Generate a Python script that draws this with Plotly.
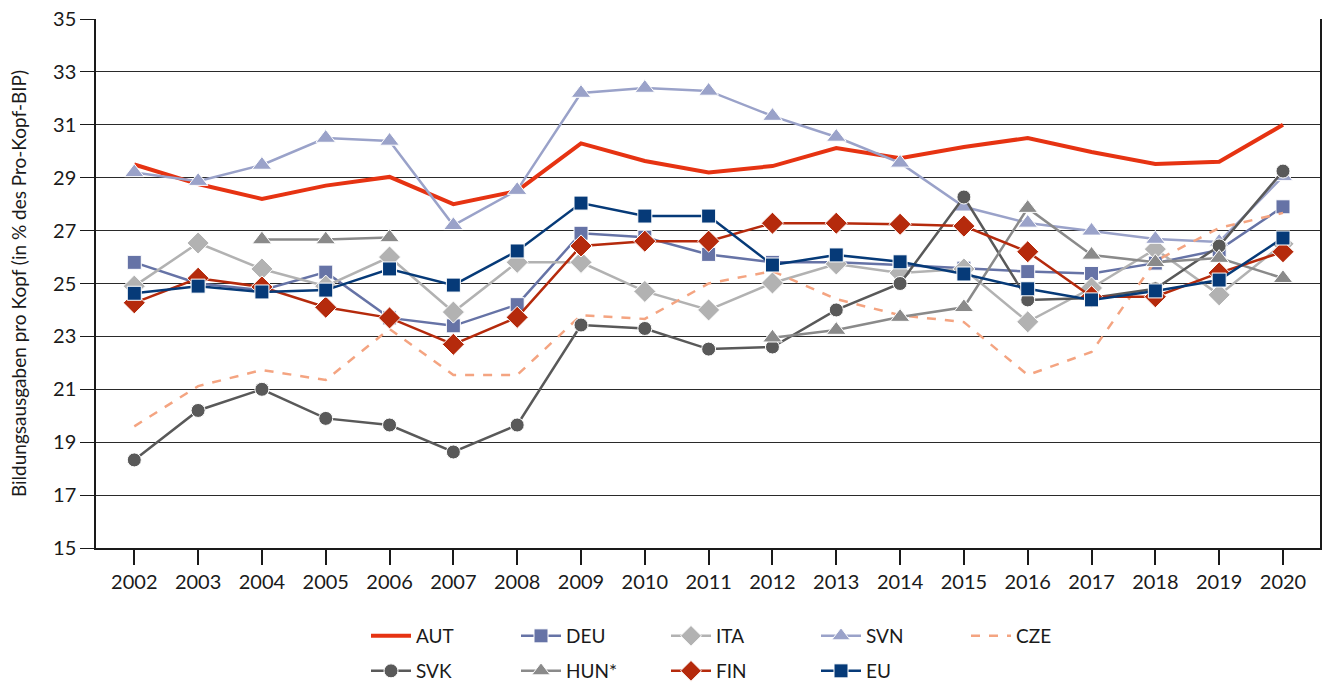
import plotly.graph_objects as go

years = list(range(2002, 2021))

aut = [29.5, 28.76, 28.2, 28.7, 29.03, 28.0, 28.5, 30.3, 29.63, 29.2, 29.44, 30.12, 29.74, 30.16, 30.5, 29.97, 29.52, 29.6, 31.0]
deu = [25.8, 25.0, 24.75, 25.43, 23.7, 23.4, 24.2, 26.9, 26.75, 26.1, 25.8, 25.8, 25.7, 25.58, 25.45, 25.38, 25.77, 26.27, 27.9]
ita = [24.9, 26.53, 25.55, 24.9, 26.0, 23.92, 25.8, 25.8, 24.7, 24.0, 25.02, 25.74, 25.4, 25.55, 23.55, 24.83, 26.3, 24.57, 26.5]
svn = [29.2, 28.87, 29.48, 30.5, 30.39, 27.2, 28.53, 32.2, 32.39, 32.28, 31.33, 30.54, 29.56, 27.9, 27.29, 26.99, 26.68, 26.57, 29.05]
cze = [19.6, 21.12, 21.73, 21.35, 23.28, 21.54, 21.54, 23.8, 23.66, 25.0, 25.47, 24.41, 23.8, 23.54, 21.54, 22.41, 25.85, 27.1, 27.67]
svk = [18.33, 20.2, 21.0, 19.9, 19.65, 18.63, 19.65, 23.43, 23.3, 22.52, 22.6, 24.0, 25.0, 28.27, 24.38, 24.45, 24.8, 26.42, 29.25]
hun = [None, None, 26.66, 26.66, 26.74, None, None, None, None, None, 22.95, 23.24, 23.73, 24.1, 27.85, 26.08, 25.8, 25.96, 25.2]
fin = [24.27, 25.2, 24.87, 24.1, 23.7, 22.7, 23.72, 26.42, 26.6, 26.6, 27.28, 27.28, 27.24, 27.17, 26.2, 24.5, 24.5, 25.4, 26.2]
eu = [24.63, 24.9, 24.68, 24.75, 25.55, 24.94, 26.23, 28.04, 27.55, 27.55, 25.7, 26.08, 25.82, 25.36, 24.8, 24.38, 24.72, 25.13, 26.72]

y_ticks = [15, 17, 19, 21, 23, 25, 27, 29, 31, 33, 35]
y_title = "Bildungsausgaben pro Kopf (in % des Pro-Kopf-BIP)"

FONT = "Lato, 'Open Sans', sans-serif"

series = [
    # name, values, color, width, dash, symbol, size, legend
    ("AUT", aut, "#E63312", 4, "solid", None, 0, "legend"),
    ("DEU", deu, "#6673A6", 2.5, "solid", "square", 14, "legend"),
    ("ITA", ita, "#B2B2B2", 2.5, "solid", "diamond", 17, "legend"),
    ("SVN", svn, "#9AA2C9", 2.5, "solid", "triangle-up", 17, "legend"),
    ("CZE", cze, "#F4A481", 2.5, "dash", None, 0, "legend"),
    ("SVK", svk, "#595959", 2.5, "solid", "circle", 14, "legend2"),
    ("HUN*", hun, "#8A8A8A", 2.5, "solid", "triangle-up", 17, "legend2"),
    ("FIN", fin, "#B52A0C", 2.5, "solid", "diamond", 17, "legend2"),
    ("EU", eu, "#063A78", 2.5, "solid", "square", 14, "legend2"),
]

fig = go.Figure()
for name, vals, color, w, dash, sym, size, leg in series:
    kw = dict(
        x=years, y=vals, name=name, legend=leg,
        line=dict(color=color, width=w, dash=dash),
        connectgaps=False,
    )
    if sym:
        kw["mode"] = "lines+markers"
        kw["marker"] = dict(symbol=sym, size=size, color=color, line=dict(color="white", width=1))
    else:
        kw["mode"] = "lines"
    fig.add_trace(go.Scatter(**kw))

legend_common = dict(
    orientation="h", xref="paper", yref="paper", xanchor="left", yanchor="middle",
    entrywidth=95, entrywidthmode="pixels",
    font=dict(family=FONT, size=19, color="#1a1a1a"),
    bgcolor="rgba(0,0,0,0)", traceorder="normal", itemwidth=40,
)

fig.update_layout(
    width=1325, height=683,
    margin=dict(l=96, r=5, t=19, b=135, autoexpand=False),
    paper_bgcolor="white", plot_bgcolor="white",
    font=dict(family=FONT, size=18, color="#1a1a1a"),
    legend=dict(x=(366 - 96) / 1224, y=(548 - 636) / 529, **legend_common),
    legend2=dict(x=(366 - 96) / 1224, y=(548 - 671) / 529, **legend_common),
    xaxis=dict(
        range=[2001.4, 2020.58], tickmode="array", tickvals=years,
        ticktext=[str(y) for y in years],
        showgrid=False, zeroline=False, automargin=False,
        showline=True, linecolor="#1a1a1a", linewidth=1.5,
        ticks="outside", ticklen=15, tickcolor="#1a1a1a", tickwidth=1.5,
        tickfont=dict(family=FONT, size=20, color="#1a1a1a"),
    ),
    yaxis=dict(
        range=[15, 35], tickmode="array", tickvals=y_ticks,
        showgrid=True, gridcolor="#2a2a2a", gridwidth=1,
        zeroline=False, automargin=False,
        showline=True, linecolor="#1a1a1a", linewidth=1.5, mirror=True,
        ticks="outside", ticklen=14, tickcolor="#1a1a1a", tickwidth=1,
        tickfont=dict(family=FONT, size=20, color="#1a1a1a"),
        title=dict(text=y_title, font=dict(family=FONT, size=19, color="#1a1a1a"), standoff=21),
    ),
)

fig.write_html(
    "out.html",
    config={"displayModeBar": False},
    post_script="document.body.style.margin='0px'; document.body.style.overflow='hidden';",
)
